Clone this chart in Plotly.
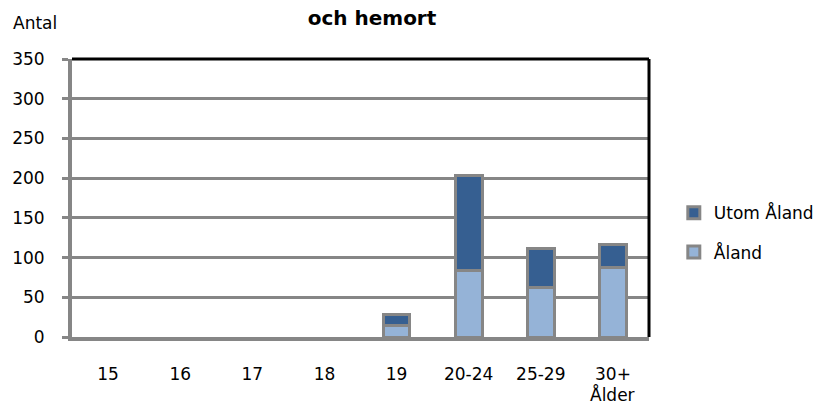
import plotly.graph_objects as go

categories = ["15", "16", "17", "18", "19", "20-24", "25-29", "30+"]
aland = [0, 0, 0, 0, 15, 84, 62, 88]
utom_aland = [0, 0, 0, 0, 13, 119, 50, 29]
y_ticks = [0, 50, 100, 150, 200, 250, 300, 350]

FONT = "DejaVu Sans"
GRAY = "#868686"
LIGHT = "#95B3D7"
DARK = "#365F91"


def drawn(values):
    # zero-height segments are not drawn (no border stubs on the baseline)
    return [v if v else None for v in values]


fig = go.Figure()
fig.add_trace(go.Bar(
    x=categories, y=drawn(aland), name="Åland", legendgroup="a", legendrank=2,
    marker=dict(color=LIGHT, line=dict(color=GRAY, width=3)),
))
fig.add_trace(go.Bar(
    x=categories, y=drawn(utom_aland), name="Utom Åland", legendgroup="b", legendrank=1,
    marker=dict(color=DARK, line=dict(color=GRAY, width=3)),
))

fig.update_layout(
    width=832, height=405,
    barmode="stack", bargap=0.63,
    plot_bgcolor="white", paper_bgcolor="white",
    margin=dict(l=69, r=183, t=59, b=68),
    font=dict(family=FONT, size=17, color="black"),
    title=dict(text="<b>och hemort</b>", x=372/832, xanchor="center", xref="container",
               y=1 - 18/405, yanchor="middle", yref="container",
               font=dict(family=FONT, size=20, color="black")),
    legend=dict(x=1.043, xanchor="left", y=0.375, yanchor="middle",
                traceorder="grouped", tracegroupgap=14,
                font=dict(family=FONT, size=17), bgcolor="rgba(0,0,0,0)"),
    xaxis=dict(showline=True, linecolor=GRAY, linewidth=4, showgrid=False,
               ticks="", ticklabelstandoff=19, tickfont=dict(size=17)),
    yaxis=dict(range=[0, 350], tickvals=y_ticks, showgrid=True, gridcolor=GRAY, gridwidth=3,
               showline=True, linecolor=GRAY, linewidth=4, ticks="outside", ticklen=6,
               tickwidth=3, tickcolor=GRAY, ticklabelstandoff=14, zeroline=False,
               tickfont=dict(size=17)),
    annotations=[
        dict(text="Antal", xref="paper", yref="paper", x=-0.105, y=1.0, xanchor="left",
             yanchor="bottom", yshift=24, showarrow=False, font=dict(family=FONT, size=17)),
        dict(text="Ålder", xref="x", yref="paper", x="30+", y=0, xanchor="center",
             yanchor="top", yshift=-45, showarrow=False, font=dict(family=FONT, size=17)),
    ],
    shapes=[
        dict(type="line", xref="paper", yref="paper", x0=0, x1=1, y0=1, y1=1,
             line=dict(color="black", width=3), layer="above"),
        dict(type="line", xref="paper", yref="paper", x0=1, x1=1, y0=0, y1=1,
             line=dict(color="black", width=3), layer="above"),
    ],
)

fig.write_html("out.html", config={"displayModeBar": False},
               post_script="document.body.style.margin='0';")
